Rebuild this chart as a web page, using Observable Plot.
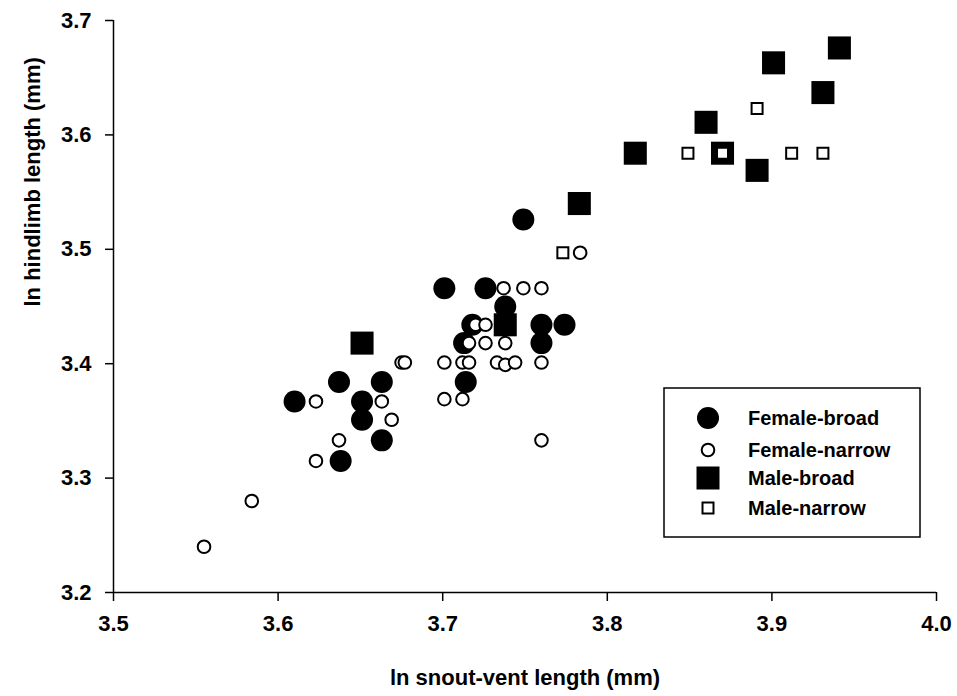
<!DOCTYPE html>
<html>
<head>
<meta charset="utf-8">
<script src="https://cdn.jsdelivr.net/npm/d3@7"></script>
<script src="https://cdn.jsdelivr.net/npm/@observablehq/plot@0.6"></script>
<style>
  html, body { margin: 0; padding: 0; background: #fff; }
  #chart svg { display: block; }
</style>
</head>
<body>
<div id="chart"></div>
<script>
// Female-broad (filled circles)
const femaleBroadX = [3.610, 3.637, 3.651, 3.651, 3.663, 3.663, 3.638, 3.701, 3.726, 3.738, 3.718, 3.713, 3.714, 3.749, 3.760, 3.774, 3.760];
const femaleBroadY = [3.367, 3.384, 3.367, 3.351, 3.384, 3.333, 3.315, 3.466, 3.466, 3.450, 3.434, 3.418, 3.384, 3.526, 3.434, 3.434, 3.418];
// Female-narrow (open circles)
const femaleNarrowX = [3.555, 3.584, 3.623, 3.637, 3.623, 3.663, 3.669, 3.675, 3.677,
  3.701, 3.712, 3.716, 3.733, 3.738, 3.744, 3.760,
  3.701, 3.712,
  3.716, 3.726, 3.738,
  3.720, 3.726,
  3.737, 3.749, 3.760,
  3.760, 3.7835];
const femaleNarrowY = [3.240, 3.280, 3.367, 3.333, 3.315, 3.367, 3.351, 3.401, 3.401,
  3.401, 3.401, 3.401, 3.401, 3.399, 3.401, 3.401,
  3.369, 3.369,
  3.418, 3.418, 3.418,
  3.434, 3.434,
  3.466, 3.466, 3.466,
  3.333, 3.497];
// Male-broad (filled squares)
const maleBroadX = [3.651, 3.738, 3.783, 3.817, 3.860, 3.870, 3.891, 3.901, 3.931, 3.941];
const maleBroadY = [3.418, 3.434, 3.540, 3.584, 3.611, 3.584, 3.569, 3.663, 3.637, 3.676];
// Male-narrow (open squares)
const maleNarrowX = [3.773, 3.849, 3.870, 3.891, 3.912, 3.931];
const maleNarrowY = [3.497, 3.584, 3.584, 3.623, 3.584, 3.584];

const xTicks = [3.5, 3.6, 3.7, 3.8, 3.9, 4.0];
const yTicks = [3.2, 3.3, 3.4, 3.5, 3.6, 3.7];
const legendLabels = ["Female-broad", "Female-narrow", "Male-broad", "Male-narrow"];

const zip = (xs, ys) => xs.map((x, i) => ({x, y: ys[i]}));
const fb = zip(femaleBroadX, femaleBroadY);
const fn = zip(femaleNarrowX, femaleNarrowY);
const mb = zip(maleBroadX, maleBroadY);
const mn = zip(maleNarrowX, maleNarrowY);

const FONT = "'Liberation Sans', Arial, Helvetica, sans-serif";

const plot = Plot.plot({
  width: 957,
  height: 696,
  marginLeft: 113,
  marginRight: 21,
  marginTop: 20,
  marginBottom: 104,
  style: {fontFamily: FONT, fontWeight: "bold", color: "black", background: "white"},
  x: {domain: [3.5, 4.0]},
  y: {domain: [3.2, 3.7]},
  marks: [
    Plot.axisX({ticks: xTicks, tickFormat: d3.format(".1f"), tickSize: 9, tickPadding: 14, label: null, stroke: "black", strokeWidth: 1.5, fill: "black", fontSize: 22}),
    Plot.axisY({ticks: yTicks, tickFormat: d3.format(".1f"), tickSize: 8, tickPadding: 14, label: null, stroke: "black", strokeWidth: 1.5, fill: "black", fontSize: 22}),
    Plot.ruleX([3.5], {stroke: "black", strokeWidth: 1.5}),
    Plot.ruleY([3.2], {stroke: "black", strokeWidth: 1.5}),
    Plot.dot(fb, {x: "x", y: "y", r: 11, fill: "black", stroke: "none"}),
    Plot.dot(mb, {x: "x", y: "y", symbol: "square", r: 13, fill: "black", stroke: "none"}),
    Plot.dot(fn, {x: "x", y: "y", r: 6.3, fill: "white", stroke: "black", strokeWidth: 2}),
    Plot.dot(mn, {x: "x", y: "y", symbol: "square", r: 6.2, fill: "white", stroke: "black", strokeWidth: 2}),
    Plot.text(["ln snout-vent length (mm)"], {frameAnchor: "bottom", dy: 92, fill: "black", fontSize: 22}),
    Plot.text(["ln hindlimb length (mm)"], {frameAnchor: "left", dx: -81, rotate: -90, fill: "black", fontSize: 22})
  ]
});

document.getElementById("chart").appendChild(plot);

const svg = d3.select(plot);
svg.selectAll('g[aria-label$="tick label"] text').style("font-size", "22px").style("font-weight", "bold");
svg.selectAll('g[aria-label="text"] text').style("font-size", "22px").style("font-weight", "bold");

// Legend box
const lg = svg.append("g")
  .style("font-family", FONT).style("font-weight", "bold").style("font-size", "20px");
lg.append("rect").attr("x", 664).attr("y", 388).attr("width", 256).attr("height", 149)
  .attr("fill", "white").attr("stroke", "black").attr("stroke-width", 1.5);
const rows = [418, 450, 478, 508];
const sx = 708;
lg.append("circle").attr("cx", sx).attr("cy", rows[0]).attr("r", 11).attr("fill", "black");
lg.append("circle").attr("cx", sx).attr("cy", rows[1]).attr("r", 6.3).attr("fill", "white").attr("stroke", "black").attr("stroke-width", 2);
lg.append("rect").attr("x", sx - 11.5).attr("y", rows[2] - 11.5).attr("width", 23).attr("height", 23).attr("fill", "black");
lg.append("rect").attr("x", sx - 5.5).attr("y", rows[3] - 5.5).attr("width", 11).attr("height", 11).attr("fill", "white").attr("stroke", "black").attr("stroke-width", 2);
legendLabels.forEach((t, i) => {
  lg.append("text").attr("x", 748).attr("y", rows[i]).attr("dy", "0.35em")
    .attr("text-anchor", "start").attr("fill", "black").text(t);
});
</script>
</body>
</html>
